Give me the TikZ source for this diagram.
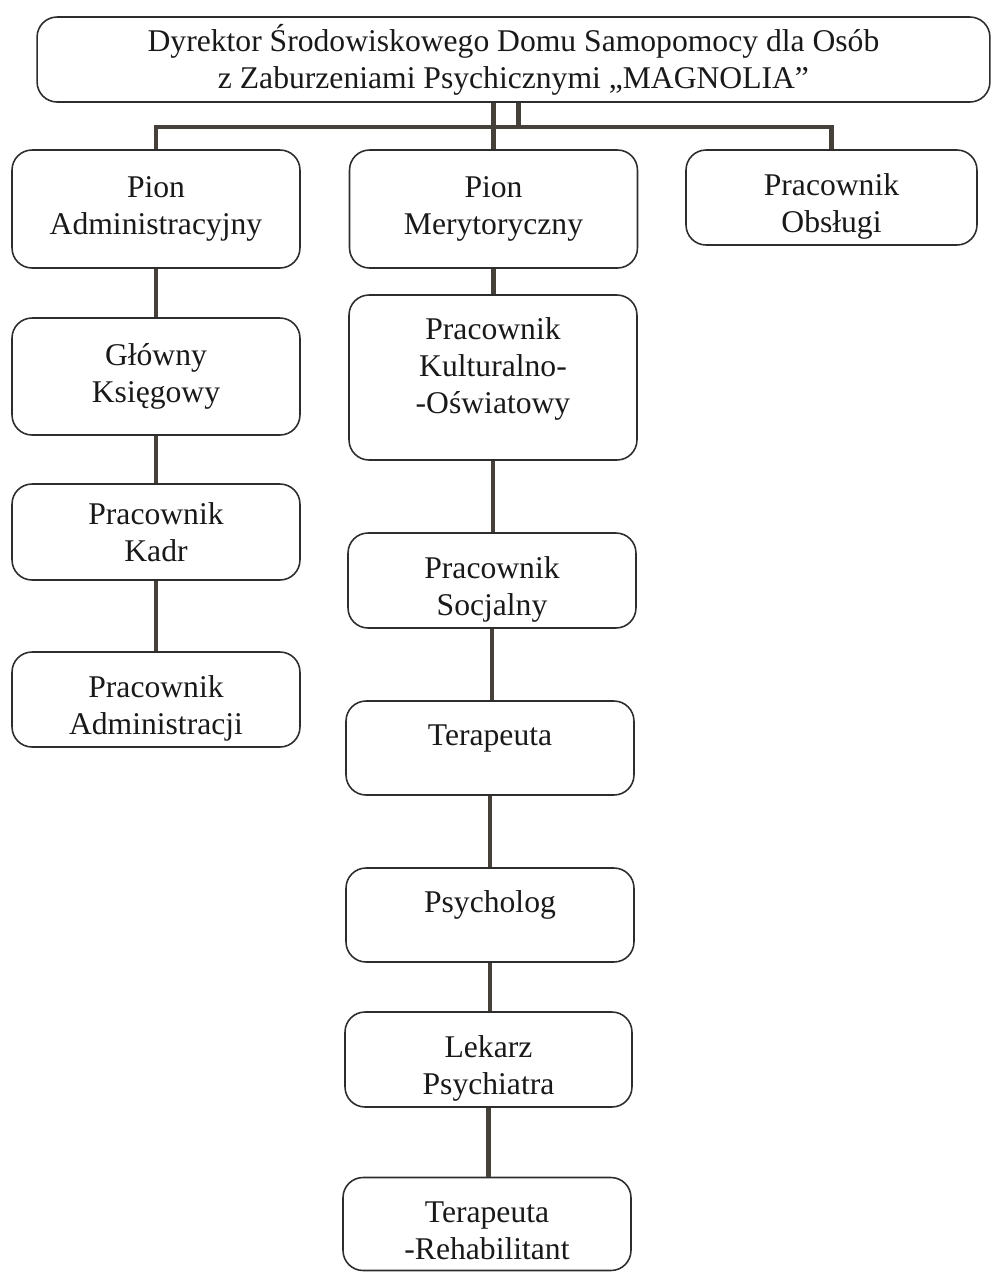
\documentclass[tikz,border=0pt]{standalone}
\usepackage{fontspec}
\setmainfont{Liberation Serif}
\definecolor{linia}{RGB}{70,64,58}
\definecolor{ramka}{RGB}{45,45,45}
\tikzset{
	box/.style={draw=ramka, line width=0.9pt, rounded corners=0.4cm, align=center,
		font=\fontsize{18}{21}\selectfont, text=black!90, inner sep=2pt},
	lift/.style={text depth=#1},
	twoline/.style={text height=40pt, text depth=0pt},
	link/.style={draw=linia, line width=2.8pt}
}
\begin{document}
\begin{tikzpicture}[x=0.02cm, y=-0.02cm]
	\useasboundingbox (0,0) rectangle (992,1272);
	% Dyrektor
	\node[box, minimum width=19.06cm, minimum height=1.7cm] (dyr) at (513.5, 59.5)
		{Dyrektor Środowiskowego Domu Samopomocy dla Osób\\z Zaburzeniami Psychicznymi „MAGNOLIA”};

	% Pion administracyjny
	\node[box, minimum width=5.76cm, minimum height=2.36cm] (pionA) at (156, 209) {Pion\\Administracyjny};
	\node[box, minimum width=5.76cm, minimum height=2.34cm] (gk) at (156, 376.5) {Główny\\Księgowy};
	\node[box, minimum width=5.76cm, minimum height=1.92cm] (kadr) at (156, 532) {Pracownik\\Kadr};
	\node[box, minimum width=5.76cm, minimum height=1.9cm, twoline] (adm) at (156, 699.5) {Pracownik\\Administracji};

	% Pion merytoryczny
	\node[box, minimum width=5.76cm, minimum height=2.36cm] (pionM) at (493.5, 209) {Pion\\Merytoryczny};
	\node[box, minimum width=5.76cm, minimum height=3.3cm, lift=14pt] (kult) at (493, 377.5) {Pracownik\\Kulturalno-\\-Oświatowy};
	\node[box, minimum width=5.76cm, minimum height=1.9cm, twoline] (soc) at (492, 580.5) {Pracownik\\Socjalny};
	\node[box, minimum width=5.76cm, minimum height=1.88cm, lift=15pt] (ter) at (490, 748) {Terapeuta};
	\node[box, minimum width=5.76cm, minimum height=1.88cm, lift=15pt] (psy) at (490, 915) {Psycholog};
	\node[box, minimum width=5.74cm, minimum height=1.9cm, twoline] (lek) at (488.5, 1059.5) {Lekarz\\Psychiatra};
	\node[box, minimum width=5.76cm, minimum height=1.86cm, twoline] (reh) at (487, 1224) {Terapeuta\\-Rehabilitant};

	% Pracownik obslugi
	\node[box, minimum width=5.82cm, minimum height=1.9cm, twoline] (obs) at (831.5, 197.5) {Pracownik\\Obsługi};

	% Polaczenia
	\coordinate (bar) at (0, 127);
	\draw[link] (pionA.north) |- (bar -| obs.north) -- (obs.north);
	\draw[link] (dyr.south -| pionM.north) -- (pionM.north);
	\draw[link] ([xshift=0.1cm]dyr.south) -- ([xshift=0.1cm]dyr.south |- bar);
	\draw[link] (pionA.south) -- (gk.north);
	\draw[link] (gk.south) -- (kadr.north);
	\draw[link] (kadr.south) -- (adm.north);
	\draw[link] (pionM.south) -- (pionM.south |- kult.north);
	\draw[link] (kult.south) -- (kult.south |- soc.north);
	\draw[link] (soc.south) -- (soc.south |- ter.north);
	\draw[link] (ter.south) -- (ter.south |- psy.north);
	\draw[link] (psy.south) -- (psy.south |- lek.north);
	\draw[link] (lek.south) -- (lek.south |- reh.north);
\end{tikzpicture}
\end{document}
